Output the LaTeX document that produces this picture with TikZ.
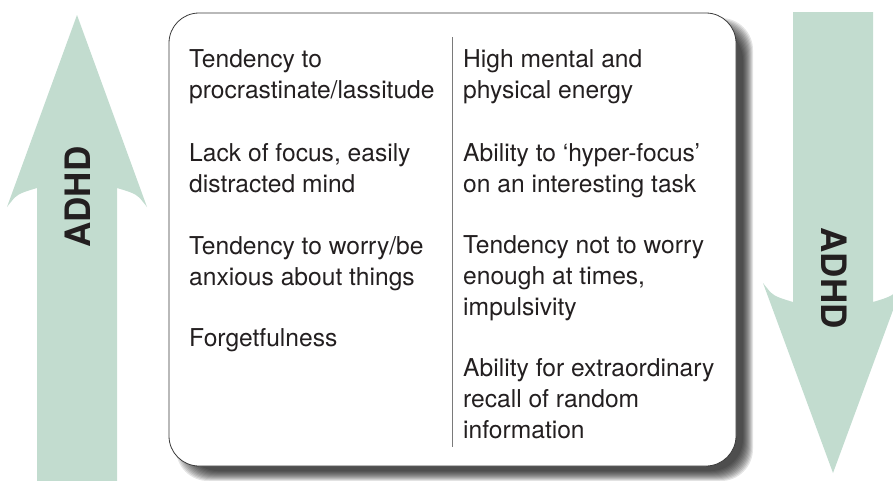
\documentclass[tikz,border=0pt]{standalone}
\usepackage{fontspec}
\setmainfont{TeX Gyre Heros}
\definecolor{arrowgreen}{HTML}{C2DCCF}
\definecolor{txt}{HTML}{231F20}
\definecolor{boxline}{HTML}{3A3A3A}
\definecolor{divline}{HTML}{7A7A7A}
\tikzset{
  item/.style={anchor=base west, inner sep=0pt, text=txt, font=\fontsize{24.6}{31}\selectfont},
  adhd/.style={inner sep=0pt, text=txt, font=\fontsize{35}{35}\selectfont\bfseries},
  panel/.style={draw=boxline, line width=0.8pt, fill=white, rounded corners=30pt, minimum width=567pt, minimum height=453pt, inner sep=0pt},
  shadowlayer/.style={fill=black, opacity=0.1, rounded corners=32pt}
}
\newcommand{\itemtext}[1]{\parbox[t]{270pt}{\raggedright #1}}
\begin{document}
\begin{tikzpicture}[x=1pt,y=-1pt]
\useasboundingbox (0,0) rectangle (893,480);
\clip (0,0) rectangle (893,480);
% left up arrow
\fill[arrowgreen] (77,15) -- (147,207) .. controls (137,194) .. (117,188) -- (117,481) -- (37,481) -- (37,188) .. controls (17,194) .. (7,207) -- cycle;
% right down arrow
\fill[arrowgreen] (833,473) -- (763,283) .. controls (773,296) .. (793,302) -- (793,12) -- (873,12) -- (873,302) .. controls (893,296) .. (903,283) -- cycle;
\node[adhd, rotate=90] (adhdL) at (78,197) {ADHD};
\node[adhd, rotate=-90] (adhdR) at (834,278) {ADHD};
% shadow
\foreach \r in {-5,-4,...,5} {
  \fill[shadowlayer] ({181-\r},{23-\r}) rectangle ({748+\r},{476+\r});
}
% panel
\node[panel] (box) at (452.5,239.5) {};
\coordinate (divtop) at (452.5,37);
\coordinate (divbot) at (452.5,447);
\draw[divline, line width=0.8pt] (divtop) -- (divbot);
% left column
\node[item] (l1) at (189,67) {\itemtext{Tendency to\\procrastinate/lassitude}};
\node[item] (l2) at (189,161) {\itemtext{Lack of focus, easily\\distracted mind}};
\node[item] (l3) at (189,254) {\itemtext{Tendency to worry/be\\anxious about things}};
\node[item] (l4) at (189,346) {\itemtext{Forgetfulness}};
% right column
\node[item] (r1) at (463,67) {\itemtext{High mental and\\physical energy}};
\node[item] (r2) at (463,161) {\itemtext{Ability to ‘hyper-focus’\\on an interesting task}};
\node[item] (r3) at (463,253) {\itemtext{Tendency not to worry\\enough at times,\\impulsivity}};
\node[item] (r4) at (463,376) {\itemtext{Ability for extraordinary\\recall of random\\information}};
\end{tikzpicture}
\end{document}
